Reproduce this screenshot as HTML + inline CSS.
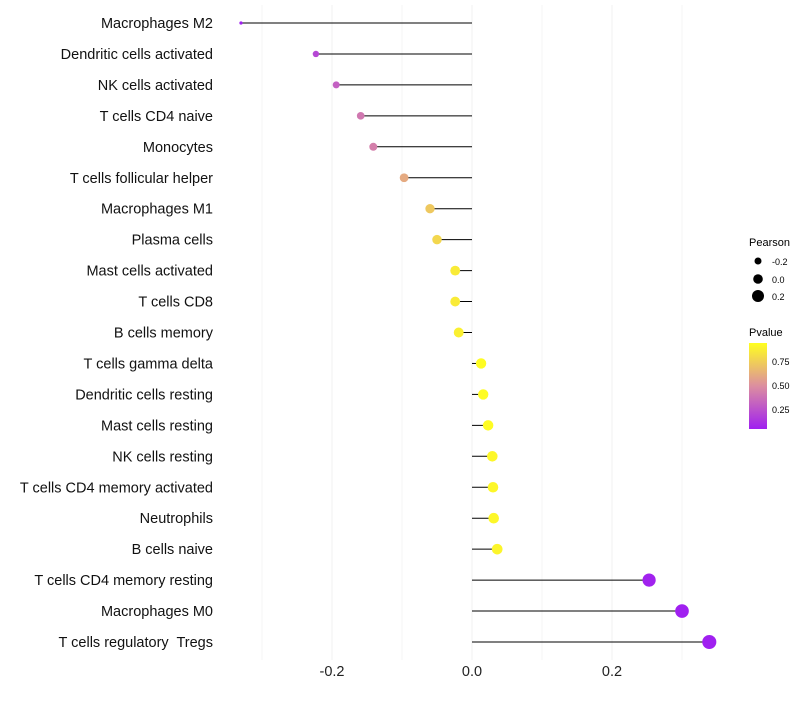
<!DOCTYPE html>
<html><head><meta charset="utf-8"><style>
body{margin:0;background:#fff;font-family:"Liberation Sans",sans-serif}
text{white-space:pre}
</style></head><body>
<svg id="chart" width="800" height="700" xmlns="http://www.w3.org/2000/svg">
<defs><linearGradient id="pg" x1="0" y1="1" x2="0" y2="0">
<stop offset="0" stop-color="#a020f0"/><stop offset="0.5" stop-color="#dc8ea0"/><stop offset="1" stop-color="#ffff20"/></linearGradient></defs>
<g id="grid"></g><g id="marks"></g><g id="labels"></g>
<g font-size="10">
<text x="749" y="246" font-size="11">Pearson</text>
<circle cx="758" cy="261" r="3.5"/><text x="772" y="265" font-size="9">-0.2</text>
<circle cx="758" cy="279" r="4.8"/><text x="772" y="283" font-size="9">0.0</text>
<circle cx="758" cy="296" r="6"/><text x="772" y="300" font-size="9">0.2</text>
</g>
<g>
<text x="749" y="336" font-size="11">Pvalue</text>
<rect x="749" y="343" width="18" height="86" fill="url(#pg)"/>
<text x="772" y="365" font-size="9">0.75</text>
<text x="772" y="389" font-size="9">0.50</text>
<text x="772" y="413" font-size="9">0.25</text>
</g>
</svg>
<script>
const categories=["Macrophages M2","Dendritic cells activated","NK cells activated","T cells CD4 naive","Monocytes","T cells follicular helper","Macrophages M1","Plasma cells","Mast cells activated","T cells CD8","B cells memory","T cells gamma delta","Dendritic cells resting","Mast cells resting","NK cells resting","T cells CD4 memory activated","Neutrophils","B cells naive","T cells CD4 memory resting","Macrophages M0","T cells regulatory  Tregs"];
const pearson=[-0.33,-0.223,-0.194,-0.159,-0.141,-0.097,-0.06,-0.05,-0.024,-0.024,-0.019,0.013,0.016,0.023,0.029,0.03,0.031,0.036,0.253,0.3,0.339];
const pvalue=[0.03,0.2,0.3,0.4,0.43,0.6,0.72,0.78,0.86,0.86,0.88,0.93,0.93,0.93,0.91,0.91,0.91,0.9,0.05,0.03,0.02];
const xTicks=[-0.2,0,0.2];
const xTickLabels=["-0.2","0.0","0.2"];
const minorGrid=[-0.3,-0.1,0.1,0.3];
const NS="http://www.w3.org/2000/svg";
const x=v=>472+v*700;
const y=i=>23+i*30.95;
const r=v=>Math.sqrt(Math.max(1.5,25.8+70*v));
function col(p){const t=Math.max(0,Math.min(1,(p-0.04)/0.9));
 const a=[160,32,240],m=[220,142,160],b=[255,255,32];let c;
 if(t<0.5){const u=t/0.5;c=a.map((v,k)=>v+(m[k]-v)*u);}else{const u=(t-0.5)/0.5;c=m.map((v,k)=>v+(b[k]-v)*u);}
 return `rgb(${c.map(Math.round).join(',')})`;}
function mk(tag,at,parent){const e=document.createElementNS(NS,tag);for(const k in at)e.setAttribute(k,at[k]);document.getElementById(parent).appendChild(e);return e;}
[...xTicks,...minorGrid].forEach(v=>{const l=mk('line',{x1:x(v),x2:x(v),y1:5,y2:660,stroke:'#f0f0f0','stroke-width':xTicks.includes(v)?1:0.6},'grid');

});
xTicks.forEach((v,i)=>{const t=mk('text',{x:x(v),y:676,'text-anchor':'middle','font-size':14.5,fill:'#222'},'labels');t.textContent=xTickLabels[i];

});
categories.forEach((c,i)=>{
 const t=mk('text',{x:213,y:y(i)+5,'text-anchor':'end','font-size':14.5,fill:'#111'},'labels');t.textContent=c;
 
 
 const l=mk('line',{x1:x(0),x2:x(pearson[i]),y1:y(i),y2:y(i),stroke:'#000','stroke-width':1},'marks');
 
 
 const d=mk('circle',{cx:x(pearson[i]),cy:y(i),r:r(pearson[i]),fill:col(pvalue[i])},'marks');
 
 
});
</script>
</body></html>
